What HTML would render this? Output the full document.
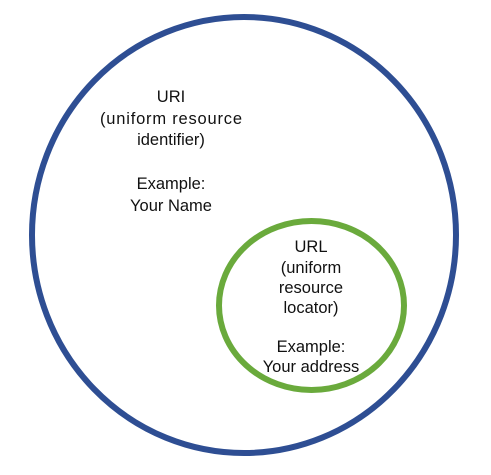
<!DOCTYPE html>
<html><head><style>
html,body{margin:0;padding:0;background:#fff;width:491px;height:475px;overflow:hidden}
svg text{font-family:"Liberation Sans",sans-serif;font-size:16.5px;fill:#111;text-anchor:middle}
</style></head><body>
<svg width="491" height="475" xmlns="http://www.w3.org/2000/svg">
<ellipse cx="244" cy="235" rx="212" ry="218" fill="none" stroke="#2e4e93" stroke-width="6"/>
<ellipse cx="311.5" cy="305.5" rx="92.5" ry="84.5" fill="none" stroke="#6aaa3c" stroke-width="6"/>
<text x="171" y="102">URI</text>
<text x="171" y="124" textLength="142">(uniform resource</text>
<text x="171" y="145">identifier)</text>
<text x="171" y="189">Example:</text>
<text x="171" y="211">Your Name</text>
<text x="311" y="252">URL</text>
<text x="311" y="273">(uniform</text>
<text x="311" y="293">resource</text>
<text x="311" y="313">locator)</text>
<text x="311" y="352">Example:</text>
<text x="311" y="372">Your address</text>
</svg>
</body></html>
